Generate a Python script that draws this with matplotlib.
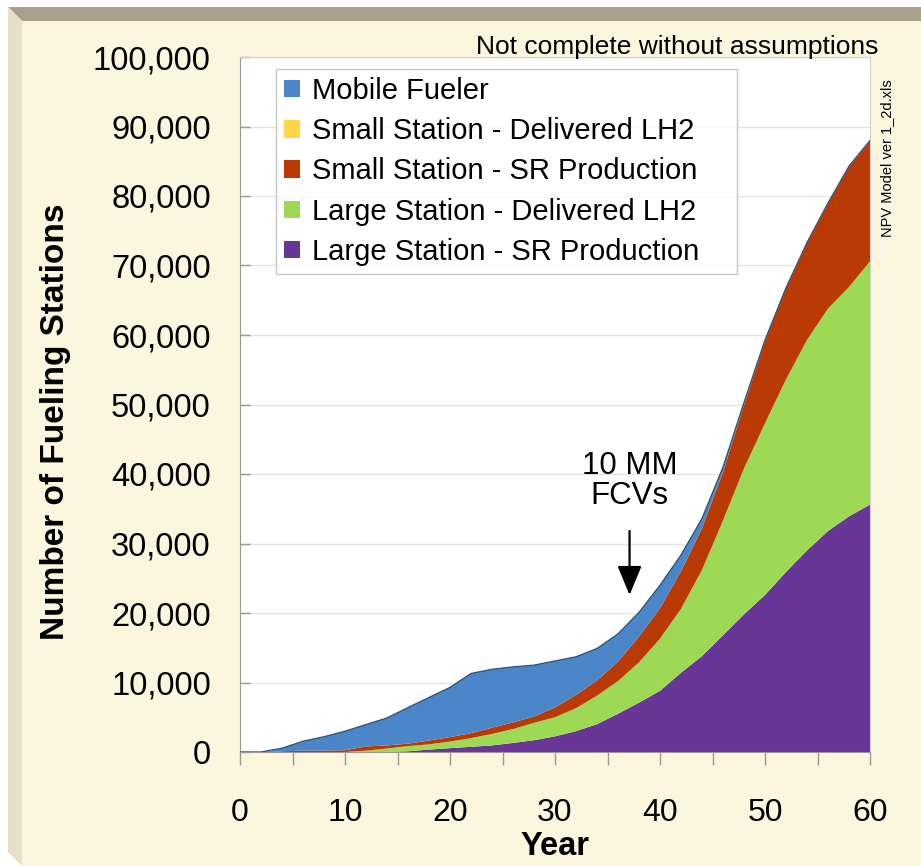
import numpy as np
import matplotlib
matplotlib.use("Agg")
import matplotlib.pyplot as plt
from matplotlib.patches import Polygon
from matplotlib.ticker import FuncFormatter, MultipleLocator

plt.rcParams["font.family"] = ["Liberation Sans", "DejaVu Sans"]

# data, every 2 years
years = [0, 2, 4, 6, 8, 10, 12, 14, 16, 18, 20, 22, 24, 26, 28, 30,
         32, 34, 36, 38, 40, 42, 44, 46, 48, 50, 52, 54, 56, 58, 60]
large_sr = [0, 0, 0, 0, 0, 0, 0, 0, 100, 350, 550, 750, 950, 1300, 1700, 2250,
            3000, 4000, 5500, 7100, 8800, 11400, 13800, 16800, 19800, 22600,
            25900, 29000, 31800, 33900, 35600]
large_lh2 = [0, 0, 0, 0, 0, 0, 200, 500, 750, 750, 950, 1250, 1650, 2000, 2500, 2750,
             3300, 4100, 4700, 5800, 7500, 9200, 12400, 16500, 21000, 24700,
             27700, 30300, 32000, 33000, 35000]
small_sr = [0, 0, 100, 200, 200, 250, 600, 450, 350, 550, 650, 700, 900, 950, 900, 1400,
            1900, 2200, 2800, 3700, 4400, 5400, 6000, 7000, 9100, 11800,
            13100, 13900, 15100, 17300, 17300]
small_lh2 = [0] * 31
mobile = [0, 0, 450, 1350, 2000, 2750, 3150, 3950, 5200, 6200, 7150, 8600, 8400, 8000,
          7400, 6700, 5500, 4600, 4000, 3500, 3300, 2350, 1400, 700, 400, 200,
          100, 100, 100, 100, 100]

# stacking order, bottom to top
labels = ["Large Station - SR Production", "Large Station - Delivered LH2",
          "Small Station - SR Production", "Small Station - Delivered LH2",
          "Mobile Fueler"]
colors = ["#673696", "#9ED955", "#BA3A06", "#FFD54A", "#4A86C8"]

W, H = 921, 866
fig = plt.figure(figsize=(W / 100, H / 100), dpi=100)
fig.patch.set_facecolor("white")


def fp(pts):
    return [(x / W, 1 - y / H) for x, y in pts]


# frame: cream panel with bevelled top and left edges
frame = [
    ([(22, 21), (921, 21), (921, 866), (22, 866)], "#FDF6DE"),
    ([(8, 7), (921, 7), (921, 21), (22, 21)], "#A8A08C"),
    ([(8, 7), (22, 21), (22, 866), (8, 852)], "#E8E0C6"),
]
for pts, c in frame:
    fig.add_artist(Polygon(fp(pts), closed=True, transform=fig.transFigure,
                           facecolor=c, edgecolor="none", zorder=-10))

ax = fig.add_axes([240 / W, 1 - 752 / H, 630 / W, 695 / H])
ax.set_facecolor("white")

ax.stackplot(years, large_sr, large_lh2, small_sr, small_lh2, mobile,
             colors=colors, labels=labels, linewidth=0)
total = np.sum([large_sr, large_lh2, small_sr, small_lh2, mobile], axis=0)
ax.plot(years, total, color="#2F4F73", lw=0.9, zorder=3)

ax.set_xlim(0, 60)
ax.set_ylim(0, 100000)
ax.xaxis.set_major_locator(MultipleLocator(10))
ax.xaxis.set_minor_locator(MultipleLocator(5))
ax.yaxis.set_major_locator(MultipleLocator(10000))
ax.yaxis.set_major_formatter(FuncFormatter(lambda v, p: f"{int(v):,}"))
ax.grid(axis="y", color="#E4E4E4", lw=1)
ax.set_axisbelow(True)

ax.tick_params(axis="x", which="both", direction="out", length=9, width=1,
               color="#999999", labelsize=23, pad=24)
ax.tick_params(axis="y", direction="in", length=7, width=1, color="#999999",
               labelsize=23.5, pad=21)
for s in ["left", "bottom"]:
    ax.spines[s].set_color("#999999")
for s in ["top", "right"]:
    ax.spines[s].set_color("#D0D0D0")

ax.set_xlabel("Year", fontsize=23.5, fontweight="bold")
ax.xaxis.set_label_coords(0.5, -0.114)
ax.set_ylabel("Number of Fueling Stations", fontsize=24, fontweight="bold")
ax.yaxis.set_label_coords(-0.268, 0.475)

# legend lists the series top to bottom as in the reference
order = [4, 3, 2, 1, 0]
h, l = ax.get_legend_handles_labels()
leg = ax.legend([h[i] for i in order], [l[i] for i in order], loc="upper left",
                bbox_to_anchor=(0.057, 0.983, 0.732, 0), mode="expand",
                fontsize=21, frameon=True, fancybox=False, edgecolor="#BBBBBB",
                handlelength=0.55, handleheight=0.55, handletextpad=0.4,
                labelspacing=0.42, borderpad=0.28, borderaxespad=0)
leg.get_frame().set_linewidth(1)

ax.annotate("", xy=(37.1, 22600), xytext=(37.1, 31800),
            arrowprops=dict(arrowstyle="-|>,head_width=0.75,head_length=1.8",
                            color="black", lw=1.6, shrinkA=0, shrinkB=0))
ax.text(37.1, 39000, "10 MM\nFCVs", ha="center", va="center", fontsize=22.5,
        linespacing=1.0)

fig.text(878 / W, 1 - 47 / H, "Not complete without assumptions", ha="right",
         va="center", fontsize=19)
fig.text(887 / W, 1 - 158 / H, "NPV Model ver 1_2d.xls", rotation=90,
         ha="center", va="center", fontsize=10.5)

fig.savefig("out.png", dpi=100, facecolor=fig.get_facecolor())
